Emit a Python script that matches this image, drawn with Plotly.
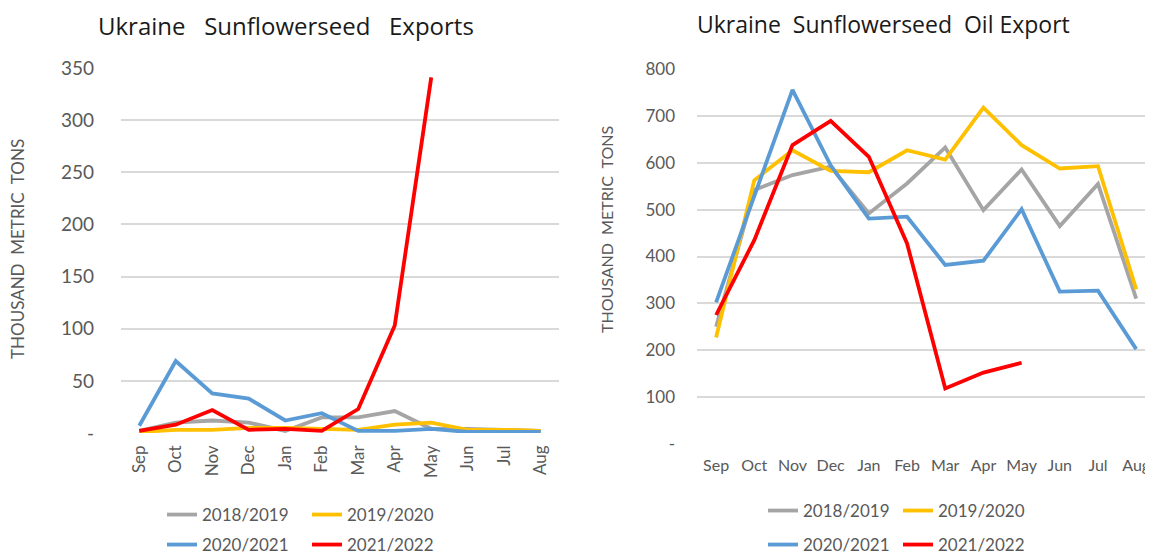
import plotly.graph_objects as go

months = ["Sep", "Oct", "Nov", "Dec", "Jan", "Feb", "Mar", "Apr", "May", "Jun", "Jul", "Aug"]
seasons = ["2018/2019", "2019/2020", "2020/2021", "2021/2022"]
colors = ["#A5A5A5", "#FFC000", "#5B9BD5", "#FF0000"]

# Sunflowerseed exports (thousand metric tons)
seed_1819 = [2, 10, 12, 10, 2, 15, 15, 21, 4, 4, 3, 2]
seed_1920 = [1, 3, 3, 5, 5, 4, 3, 8, 10, 3, 3, 2]
seed_2021 = [7, 69, 38, 33, 12, 19, 2, 2, 4, 1, 1, 1]
seed_2122 = [2, 8, 22, 3, 4, 2, 23, 103, 341]

# Sunflowerseed oil exports (thousand metric tons)
oil_1819 = [250, 542, 574, 592, 492, 556, 633, 499, 586, 465, 555, 310]
oil_1920 = [227, 563, 627, 583, 580, 627, 607, 718, 638, 588, 593, 330]
oil_2021 = [302, 530, 756, 595, 481, 485, 382, 391, 501, 325, 327, 202]
oil_2122 = [275, 435, 638, 690, 613, 428, 118, 152, 173]

seed_ticks = [0, 50, 100, 150, 200, 250, 300, 350]
seed_ticktext = ["-", "50", "100", "150", "200", "250", "300", "350"]
oil_ticks = [0, 100, 200, 300, 400, 500, 600, 700, 800]
oil_ticktext = ["-", "100", "200", "300", "400", "500", "600", "700", "800"]

# the page body has an 8px margin, so the figure starts at (8, 8) in the window
OFF = 8
W, H = 1153 - OFF, 556 - OFF
FONT = "Lato"
GRAY = "#595959"

fig = go.Figure()

seed_series = [seed_1819, seed_1920, seed_2021, seed_2122]
oil_series = [oil_1819, oil_1920, oil_2021, oil_2122]
left_legends = ["legend", "legend", "legend2", "legend2"]
right_legends = ["legend3", "legend3", "legend4", "legend4"]

for name, col, vals, lg in zip(seasons, colors, seed_series, left_legends):
    fig.add_trace(go.Scatter(x=months[:len(vals)], y=vals, mode="lines", name=name,
                             line=dict(color=col, width=3.8), xaxis="x", yaxis="y",
                             legend=lg))
for name, col, vals, lg in zip(seasons, colors, oil_series, right_legends):
    fig.add_trace(go.Scatter(x=months[:len(vals)], y=vals, mode="lines", name=name,
                             line=dict(color=col, width=3.8), xaxis="x2", yaxis="y2",
                             legend=lg))

def px_x(p):
    return min(1.0, (p - OFF) / W)

def px_y(p):
    return 1 - (p - OFF) / H

grid = "#D9D9D9"

fig.update_layout(
    width=W, height=H,
    margin=dict(l=0, r=0, t=0, b=0, autoexpand=False),
    paper_bgcolor="white", plot_bgcolor="white",
    font=dict(family=FONT, color=GRAY),
    xaxis=dict(domain=[px_x(121), px_x(559)], type="category", categoryorder="array",
               categoryarray=months, range=[-0.5, 11.5], tickangle=-90,
               tickfont=dict(size=17, color=GRAY), showgrid=False, showline=False,
               ticks="", ticklabelstandoff=8, anchor="y"),
    yaxis=dict(domain=[px_y(433), px_y(68)], range=[0, 350], tickvals=seed_ticks,
               ticktext=seed_ticktext, tickfont=dict(size=19, color=GRAY),
               showgrid=True, gridcolor=grid, gridwidth=1.5, zeroline=False,
               showline=False, ticks="", ticklabelstandoff=26, anchor="x"),
    xaxis2=dict(domain=[px_x(697), 1.0], type="category", categoryorder="array",
                categoryarray=months, range=[-0.5, 11.44], tickangle=0,
                tickfont=dict(size=16, color=GRAY), showgrid=False, showline=False,
                ticks="", ticklabelstandoff=10, anchor="y2"),
    yaxis2=dict(domain=[px_y(443.7), px_y(69.3)], range=[0, 800], tickvals=oil_ticks,
                ticktext=oil_ticktext, tickfont=dict(size=17, color=GRAY),
                showgrid=True, gridcolor=grid, gridwidth=1.5, zeroline=False,
                showline=False, ticks="", ticklabelstandoff=21, anchor="x2"),
    showlegend=True,
)

legend_common = dict(orientation="h", bgcolor="rgba(0,0,0,0)", font=dict(size=17, color=GRAY, family=FONT),
                     xanchor="left", yanchor="middle", itemwidth=30, tracegroupgap=0,
                     traceorder="normal")
fig.update_layout(
    legend=dict(x=px_x(162), y=px_y(515), entrywidth=100, **legend_common),
    legend2=dict(x=px_x(162), y=px_y(545), entrywidth=100, **legend_common),
    legend3=dict(x=px_x(763), y=px_y(511), entrywidth=90, **legend_common),
    legend4=dict(x=px_x(763), y=px_y(545), entrywidth=90, **legend_common),
)

annotations = [
    dict(text="Ukraine   Sunflowerseed   Exports", x=px_x(286), y=px_y(25), xref="paper", yref="paper",
         showarrow=False, font=dict(size=24, color="#1a1a1a", family="Open Sans"), xanchor="center", yanchor="middle"),
    dict(text="Ukraine  Sunflowerseed  Oil Export", x=px_x(883), y=px_y(24), xref="paper", yref="paper",
         showarrow=False, font=dict(size=23, color="#1a1a1a", family="Open Sans"), xanchor="center", yanchor="middle"),
    dict(text="THOUSAND  METRIC  TONS", x=px_x(17), y=px_y(249), xref="paper", yref="paper",
         showarrow=False, textangle=-90, font=dict(size=17, color=GRAY, family=FONT),
         xanchor="center", yanchor="middle"),
    dict(text="THOUSAND  METRIC  TONS", x=px_x(606), y=px_y(230), xref="paper", yref="paper",
         showarrow=False, textangle=-90, font=dict(size=16, color=GRAY, family=FONT),
         xanchor="center", yanchor="middle"),
]
fig.update_layout(annotations=annotations)

fig.write_html("out.html")
